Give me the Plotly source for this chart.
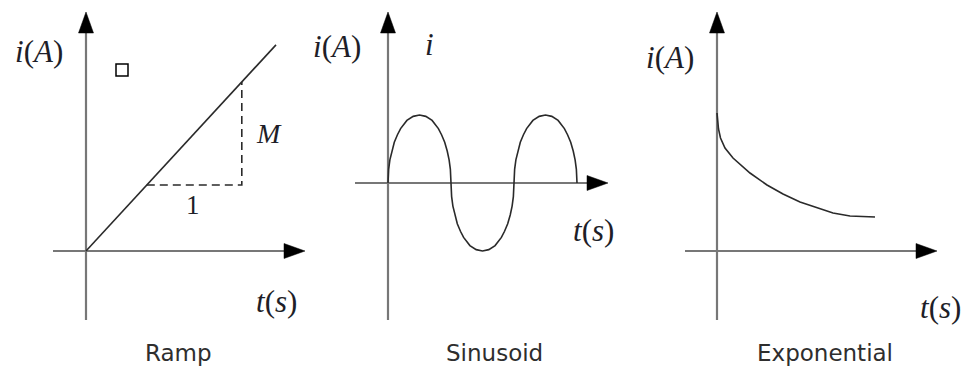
import plotly.graph_objects as go

W, H = 970, 372

# ramp panel (t and i in slope-triangle units)
ramp_t = [0, 2.0]
ramp_i = [0, 2.17]
slope_t = [0.64, 1.64, 1.64]
slope_i = [0.695, 0.695, 1.78]

# sinusoid panel (t in half periods, i normalised to the peak)
sin_t = [0, 0.01, 0.03, 0.06, 0.1, 0.15, 0.2, 0.3, 0.4, 0.5, 0.6, 0.7, 0.8, 0.85, 0.9, 0.94, 0.97, 0.99,
         1.0, 1.01, 1.03, 1.06, 1.1, 1.15, 1.2, 1.3, 1.4, 1.5, 1.6, 1.7, 1.8, 1.85, 1.9, 1.94, 1.97, 1.99,
         2.0, 2.01, 2.03, 2.06, 2.1, 2.15, 2.2, 2.3, 2.4, 2.5, 2.6, 2.7, 2.8, 2.85, 2.9, 2.94, 2.97, 2.99,
         3.0]
sin_i = [0, 0.2, 0.34, 0.47, 0.6, 0.71, 0.8, 0.92, 0.98, 1.0, 0.98, 0.92, 0.8, 0.71, 0.6, 0.47, 0.34, 0.2,
         0, -0.2, -0.34, -0.47, -0.6, -0.71, -0.8, -0.92, -0.98, -1.0, -0.98, -0.92, -0.8, -0.71, -0.6,
         -0.47, -0.34, -0.2,
         0, 0.2, 0.34, 0.47, 0.6, 0.71, 0.8, 0.92, 0.98, 1.0, 0.98, 0.92, 0.8, 0.71, 0.6, 0.47, 0.34, 0.2,
         0]

# exponential panel
exp_t = [0, 0.005, 0.015, 0.035, 0.08, 0.16, 0.33, 0.5, 0.66, 0.83, 1.0, 1.16, 1.33, 1.58]
exp_i = [1.38, 1.3, 1.22, 1.13, 1.03, 0.93, 0.78, 0.66, 0.57, 0.49, 0.43, 0.38, 0.35, 0.34]

captions = ["Ramp", "Sinusoid", "Exponential"]

# pixel geometry of each panel: strip, origin, px per unit, axis extents
panels = [
    dict(x0=0, x1=320, ox=86, oy=251, sx=95, sy=95, hl=53, ht=305),
    dict(x0=320, x1=640, ox=388, oy=183, sx=63, sy=68, hl=355, ht=608),
    dict(x0=640, x1=970, ox=717, oy=251, sx=100, sy=100, hl=685, ht=937),
]
V_BOTTOM, V_TIP = 320, 12
HEAD_LEN, HEAD_HALF = 21, 7.5

AXIS_COLOR = "#777777"
CURVE_COLOR = "#2a2a2a"
TEXT_COLOR = "#1e1e28"
SERIF = "Liberation Serif"
SANS = "DejaVu Sans"


def refs(k):
    return ("x", "y") if k == 0 else ("x%d" % (k + 1), "y%d" % (k + 1))


def to_data(p, x, y):
    return (x - p["ox"]) / p["sx"], (p["oy"] - y) / p["sy"]


fig = go.Figure()
shapes = []
annotations = []

for k, p in enumerate(panels):
    xr, yr = refs(k)
    suffix = "" if k == 0 else str(k + 1)
    fig.update_layout({
        "xaxis" + suffix: dict(domain=[p["x0"] / W, p["x1"] / W],
                               range=[(p["x0"] - p["ox"]) / p["sx"], (p["x1"] - p["ox"]) / p["sx"]],
                               visible=False, anchor=yr, fixedrange=True),
        "yaxis" + suffix: dict(domain=[0, 1],
                               range=[(p["oy"] - H) / p["sy"], p["oy"] / p["sy"]],
                               visible=False, anchor=xr, fixedrange=True),
    })

    # vertical axis + arrow head
    bx, by = to_data(p, p["ox"], V_BOTTOM)
    tx, ty = to_data(p, p["ox"], V_TIP + HEAD_LEN)
    shapes.append(dict(type="line", xref=xr, yref=yr, x0=bx, y0=by, x1=tx, y1=ty,
                       line=dict(color=AXIS_COLOR, width=2.2), layer="below"))
    a = to_data(p, p["ox"], V_TIP)
    b = to_data(p, p["ox"] - HEAD_HALF, V_TIP + HEAD_LEN)
    c = to_data(p, p["ox"] + HEAD_HALF, V_TIP + HEAD_LEN)
    shapes.append(dict(type="path", xref=xr, yref=yr,
                       path="M %f,%f L %f,%f L %f,%f Z" % (a + b + c),
                       fillcolor="black", line=dict(color="black", width=0.5)))

    # horizontal axis + arrow head
    lx, ly = to_data(p, p["hl"], p["oy"])
    rx, ry = to_data(p, p["ht"] - HEAD_LEN, p["oy"])
    shapes.append(dict(type="line", xref=xr, yref=yr, x0=lx, y0=ly, x1=rx, y1=ry,
                       line=dict(color=AXIS_COLOR, width=2.2), layer="below"))
    a = to_data(p, p["ht"], p["oy"])
    b = to_data(p, p["ht"] - HEAD_LEN, p["oy"] - HEAD_HALF)
    c = to_data(p, p["ht"] - HEAD_LEN, p["oy"] + HEAD_HALF)
    shapes.append(dict(type="path", xref=xr, yref=yr,
                       path="M %f,%f L %f,%f L %f,%f Z" % (a + b + c),
                       fillcolor="black", line=dict(color="black", width=0.5)))

# curves
line_style = dict(color=CURVE_COLOR, width=1.6)
fig.add_trace(go.Scatter(x=ramp_t, y=ramp_i, mode="lines", line=line_style, xaxis="x", yaxis="y"))
fig.add_trace(go.Scatter(x=slope_t, y=slope_i, mode="lines", xaxis="x", yaxis="y",
                         line=dict(color=CURVE_COLOR, width=1.6, dash="8px,5px")))
fig.add_trace(go.Scatter(x=sin_t, y=sin_i, mode="lines", line=line_style, xaxis="x2", yaxis="y2"))
fig.add_trace(go.Scatter(x=exp_t, y=exp_i, mode="lines", line=line_style, xaxis="x3", yaxis="y3"))

# little square glyph in the ramp panel
p = panels[0]
s0 = to_data(p, 116, 64)
s1 = to_data(p, 128, 76)
shapes.append(dict(type="rect", xref="x", yref="y", x0=s0[0], y0=s0[1], x1=s1[0], y1=s1[1],
                   line=dict(color="black", width=1.5)))


def label(k, x, y, text, size=31, font=SERIF, color=TEXT_COLOR):
    p = panels[k]
    xr, yr = refs(k)
    dx, dy = to_data(p, x, y)
    annotations.append(dict(x=dx, y=dy, xref=xr, yref=yr, text=text, showarrow=False,
                            xanchor="center", yanchor="middle",
                            font=dict(family=font, size=size, color=color)))


ia = "<i>i</i>(<i>A</i>)"
ts = "<i>t</i>(<i>s</i>)"
label(0, 39, 51, ia)
label(0, 276, 301, ts)
label(0, 269, 133, "<i>M</i>", size=28)
label(0, 193, 205, "1", size=27)
label(1, 337, 46, ia)
label(1, 429, 44, "<i>i</i>")
label(1, 593, 230, ts)
label(2, 670, 57, ia)
label(2, 940, 307, ts)

for k, (cx, text) in enumerate(zip([178, 494, 825], captions)):
    label(k, cx, 353, text, size=23, font=SANS, color="#2e2e2e")

fig.update_layout(width=W, height=H, margin=dict(l=0, r=0, t=0, b=0),
                  paper_bgcolor="white", plot_bgcolor="white", showlegend=False,
                  shapes=shapes, annotations=annotations)

fig.write_html("out.html", config={"displayModeBar": False},
               post_script="document.body.style.margin='0';")
